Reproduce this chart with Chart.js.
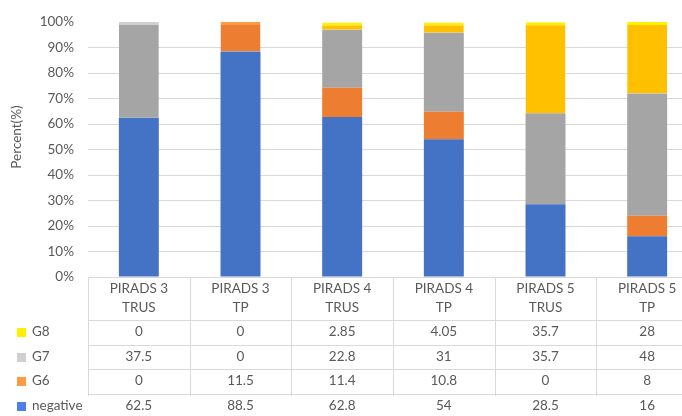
<!DOCTYPE html>
<html>
<head>
<meta charset="utf-8">
<script src="https://cdn.jsdelivr.net/npm/chart.js@4"></script>
<style>
    body { margin: 0; overflow: hidden; background: #fff; }
    canvas { display: block; }
</style>
</head>
<body>
<canvas id="chart" width="700" height="416"></canvas>
<script>
// categories and series (percent)
const categories = [["PIRADS 3", "TRUS"], ["PIRADS 3", "TP"], ["PIRADS 4", "TRUS"], ["PIRADS 4", "TP"], ["PIRADS 5", "TRUS"], ["PIRADS 5", "TP"]];
const negative = [62.5, 88.5, 62.8, 54, 28.5, 16];
const g6 = [0, 11.5, 11.4, 10.8, 0, 8];
const g7 = [37.5, 0, 22.8, 31, 35.7, 48];
const g8 = [0, 0, 2.85, 4.05, 35.7, 28];
const yMax = 100;
const yStep = 10;

const textColor = "#595959";
const lineColor = "#D9D9D9";
const fontSize = 13.5;
Chart.defaults.font.family = "Lato";
Chart.defaults.font.size = fontSize;
Chart.defaults.color = textColor;

const series = [
    { label: "negative", data: negative, color: "#4472C4", key: "#4A80E8" },
    { label: "G6", data: g6, color: "#ED7D31", key: "#FF9A45" },
    { label: "G7", data: g7, color: "#A5A5A5", key: "#D0D0D0" },
    { label: "G8", data: g8, color: "#FFC000", key: "#FFF000" }
];

// the top segment of each bar has a lighter cap
function isTopSegment(ctx) {
    const i = ctx.dataIndex;
    if (!series[ctx.datasetIndex] || series[ctx.datasetIndex].data[i] <= 0) return false;
    for (let d = ctx.datasetIndex + 1; d < series.length; d++) {
        if (series[d].data[i] > 0) return false;
    }
    return true;
}

const tablePlugin = {
    id: "dataTable",
    afterDraw(chart) {
        const c = chart.ctx;
        const area = chart.chartArea;
        const xs = chart.scales.x;
        const colW = (area.right - area.left) / categories.length;
        const headTop = area.bottom;
        const headBottom = 320;
        const rowH = 24.5;
        const rows = series.slice().reverse();

        c.save();
        c.strokeStyle = lineColor;
        c.lineWidth = 1;
        // horizontal lines
        c.beginPath();
        c.moveTo(area.left, Math.round(headTop) + 0.5);
        c.lineTo(area.right, Math.round(headTop) + 0.5);
        for (let r = 0; r < rows.length; r++) {
            const y = Math.round(headBottom + r * rowH) + 0.5;
            c.moveTo(area.left, y);
            c.lineTo(area.right, y);
        }
        // vertical lines
        for (let k = 0; k <= categories.length; k++) {
            const x = Math.round(area.left + k * colW) + 0.5;
            c.moveTo(x, headTop);
            c.lineTo(x, 396);
        }
        c.stroke();

        c.fillStyle = textColor;
        c.font = fontSize + "px Lato";
        c.textAlign = "center";
        c.textBaseline = "middle";
        categories.forEach((cat, i) => {
            const cx = xs.getPixelForValue(i);
            c.fillText(cat[0], cx, 289);
            c.fillText(cat[1], cx, 308);
            rows.forEach((s, r) => {
                c.fillText(String(s.data[i]), cx, headBottom + r * rowH + 12);
            });
        });

        // row keys
        c.textAlign = "left";
        rows.forEach((s, r) => {
            const cy = headBottom + r * rowH + 12;
            c.fillStyle = s.key;
            c.fillRect(17, Math.round(cy - 4), 9, 9);
            c.fillStyle = textColor;
            c.fillText(s.label, 32, cy);
        });

        // axis title
        c.translate(17, 137);
        c.rotate(-Math.PI / 2);
        c.textAlign = "center";
        c.fillText("Percent(%)", 0, 0);
        c.restore();
    }
};

new Chart(document.getElementById("chart"), {
    type: "bar",
    data: {
        labels: categories,
        datasets: series.map(s => ({
            label: s.label,
            data: s.data,
            backgroundColor: s.color,
            borderColor: s.key,
            borderWidth: ctx => isTopSegment(ctx) ? { top: 3, left: 0, right: 0, bottom: 0 } : 0,
            borderSkipped: false,
            barPercentage: 0.393,
            categoryPercentage: 1
        }))
    },
    options: {
        responsive: false,
        animation: false,
        devicePixelRatio: 1,
        layout: { padding: { top: 17, right: 2, left: 0, bottom: 0 } },
        plugins: { legend: { display: false }, tooltip: { enabled: false } },
        scales: {
            x: {
                stacked: true,
                ticks: { display: false },
                grid: { display: false, drawTicks: false },
                border: { display: false },
                afterFit: scale => { scale.height = 416 - 277; }
            },
            y: {
                stacked: true,
                min: 0,
                max: yMax,
                ticks: {
                    stepSize: yStep,
                    padding: 14,
                    callback: v => v + "%"
                },
                grid: {
                    color: ctx => (ctx.tick && (ctx.tick.value === 0 || ctx.tick.value === yMax)) ? "rgba(0,0,0,0)" : lineColor,
                    drawTicks: false
                },
                border: { display: false },
                afterFit: scale => { scale.width = 88; }
            }
        }
    },
    plugins: [tablePlugin]
});
</script>
</body>
</html>
